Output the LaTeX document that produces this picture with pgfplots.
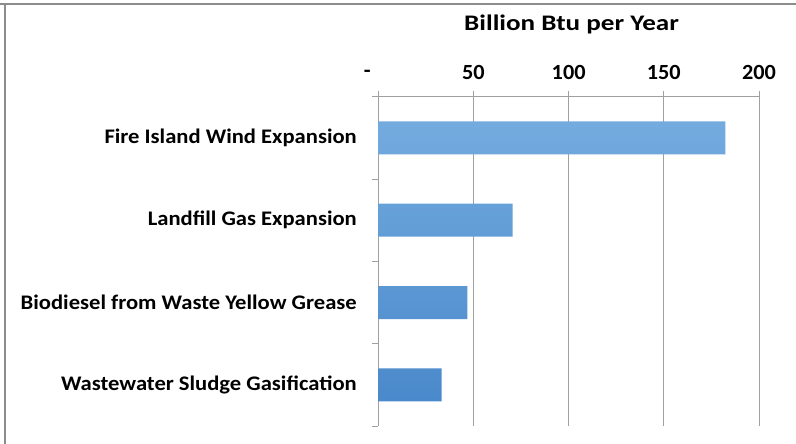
\documentclass[border=0pt]{standalone}
\usepackage{fontspec}
\setmainfont{Carlito}
\newfontfamily\labfont[FakeStretch=1.09]{Carlito}
\newfontfamily\titlefont[FakeStretch=1.22]{Carlito}
\newfontfamily\numfont[FakeStretch=1.03]{Carlito}
\usepackage{pgfplots}
\pgfplotsset{compat=1.18}
\definecolor{barTop}{HTML}{74ABDF}
\definecolor{barBot}{HTML}{4A89CB}
\definecolor{gridc}{HTML}{A0A0A0}
\definecolor{framec}{HTML}{8C8C8C}
\begin{document}
\begin{tikzpicture}
\useasboundingbox (0bp,0bp) rectangle (796bp,444bp);
\draw[framec, line width=1.2bp] (0bp,440bp) -- (796bp,440bp);
\draw[framec, line width=1.2bp] (5bp,440bp) -- (5bp,0bp);
\node[font=\titlefont\bfseries\fontsize{22.3}{26}\selectfont, anchor=base, inner sep=0pt] at (571.5bp,413bp) {Billion Btu per Year};
\begin{axis}[
  at={(378.3bp,18bp)}, anchor=south west,
  scale only axis, width=380.7bp, height=329.3bp,
  xmin=0, xmax=200, ymin=-0.5, ymax=3.5, y dir=reverse,
  axis x line*=top, axis y line*=left,
  axis line style={gridc, line width=0.9bp},
  xtick={50,100,150,200}, xticklabels={50,100,150,200},
  extra x ticks={0}, extra x tick labels={-},
  extra x tick style={xticklabel style={xshift=-11bp, yshift=2bp}},
  ytick={0,1,2,3},
  yticklabels={Fire Island Wind Expansion, Landfill Gas Expansion, Biodiesel from Waste Yellow Grease, Wastewater Sludge Gasification},
  minor ytick={-0.5,0.5,1.5,2.5,3.5},
  tick align=outside,
  major tick length=6bp, minor tick length=6bp,
  major y tick style={draw=none},
  minor y tick style={gridc, line width=0.9bp},
  major x tick style={gridc, line width=0.9bp},
  xmajorgrids,
  major grid style={gridc, line width=0.9bp},
  /pgf/number format/assume math mode=true,
  xticklabel style={font=\numfont\bfseries\fontsize{21.7}{25}\selectfont, text=black, yshift=8bp},
  yticklabel style={font=\labfont\bfseries\fontsize{20.8}{24}\selectfont, text=black, xshift=-12bp},
  clip=false,
]
\addplot[xbar, bar width=33bp, draw=none, top color=barTop, bottom color=barBot]
  coordinates {(182.3,0) (70.6,1) (46.8,2) (33.3,3)};
\end{axis}
\end{tikzpicture}
\end{document}
